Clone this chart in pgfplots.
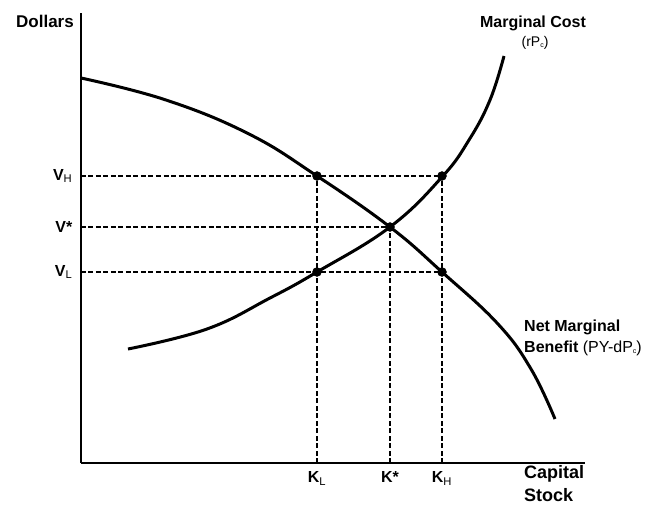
\documentclass[border=0pt]{standalone}
\usepackage{pgfplots}
\pgfplotsset{compat=1.18}
\usepackage{fontspec}
\setmainfont{Liberation Sans}
\begin{document}
\begin{tikzpicture}
\useasboundingbox (-81pt,-41pt) rectangle (569pt,463pt);
\begin{axis}[
  scale only axis, width=504pt, height=450pt,
  xmin=81, xmax=585, ymin=41, ymax=491,
  axis lines=left,
  axis line style={line width=1.8pt,-},
  clip=false,
  tick style={draw=none},
  xtick={317,390,442},
  xticklabels={{\bfseries K$_{\mathrm{L}}$},{\bfseries K*},{\bfseries K$_{\mathrm{H}}$}},
  ytick={232,277,328},
  yticklabels={{\bfseries V$_{\mathrm{L}}$},{\bfseries V*},{\bfseries V$_{\mathrm{H}}$}},
  xticklabel style={anchor=north, yshift=-3pt, font=\fontsize{16}{18}\selectfont},
  yticklabel style={anchor=east, xshift=-3pt, font=\fontsize{16}{18}\selectfont},
]
% dashed guide lines (y = 504 - pixel row)
\addplot[black, line width=1.3pt, dash pattern=on 5pt off 2.5pt] coordinates {(81,328) (442,328)};
\addplot[black, line width=1.3pt, dash pattern=on 5pt off 2.5pt] coordinates {(81,277) (390,277)};
\addplot[black, line width=1.3pt, dash pattern=on 5pt off 2.5pt] coordinates {(81,232) (442,232)};
\addplot[black, line width=1.3pt, dash pattern=on 5pt off 2.5pt] coordinates {(317,41) (317,328)};
\addplot[black, line width=1.3pt, dash pattern=on 5pt off 2.5pt] coordinates {(390,41) (390,277)};
\addplot[black, line width=1.3pt, dash pattern=on 5pt off 2.5pt] coordinates {(442,41) (442,328)};
% Net marginal benefit
\addplot[black, line width=3pt, smooth, tension=0.7] coordinates {
(81,426) (166,404) (249,370) (317,328) (390,277) (442,232) (498,180) (531,135) (555,85)};
% Marginal cost
\addplot[black, line width=3pt, smooth, tension=0.7] coordinates {
(128,155) (207,175) (270,206) (317,232) (390,277) (442,327) (469,364) (490,404) (504,448)};
% points
\addplot[only marks, mark=*, mark size=4.5pt, black] coordinates {
(317,328) (442,328) (390,277) (317,232) (442,232)};
% labels
\node[anchor=east, font=\fontsize{17}{20}\selectfont\bfseries, inner sep=0pt] at (axis cs:74,483) {Dollars};
\node[font=\fontsize{16}{19}\selectfont\bfseries, inner sep=0pt] at (axis cs:533,481) {Marginal Cost};
\node[font=\fontsize{14}{16}\selectfont, inner sep=0pt] at (axis cs:535,461) {(rP\raisebox{-1pt}{\fontsize{7}{8}\selectfont c})};
\node[anchor=west, font=\fontsize{16}{19}\selectfont\bfseries, inner sep=0pt] at (axis cs:524,177) {Net Marginal};
\node[anchor=west, font=\fontsize{16}{19}\selectfont, inner sep=0pt] at (axis cs:524,156) {\textbf{Benefit} (PY-dP\raisebox{-1pt}{\fontsize{7}{8}\selectfont c})};
\node[anchor=west, font=\fontsize{18}{21}\selectfont\bfseries, inner sep=0pt] at (axis cs:524,30) {Capital};
\node[anchor=west, font=\fontsize{18}{21}\selectfont\bfseries, inner sep=0pt] at (axis cs:524,9) {Stock};
\end{axis}
\end{tikzpicture}
\end{document}
